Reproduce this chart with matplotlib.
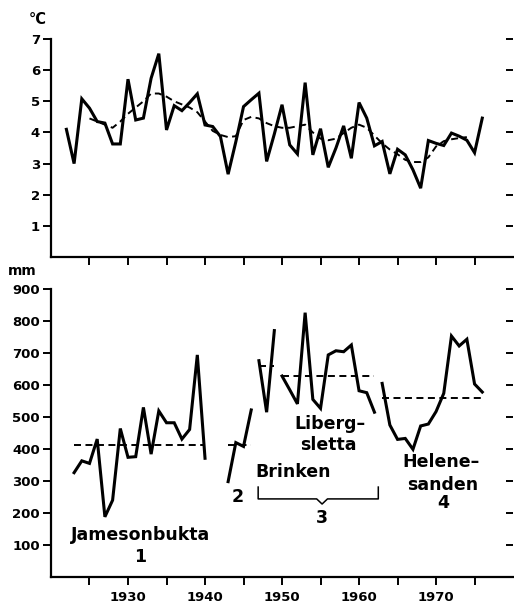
import matplotlib
matplotlib.use("Agg")
import numpy as np
import matplotlib.pyplot as plt

# --- data ---
temp_years = list(range(1922, 1977))
temp_c = [4.1, 3.0, 5.08, 4.78, 4.35, 4.3, 3.63, 3.63, 5.71, 4.4,
          4.46, 5.74, 6.53, 4.08, 4.86, 4.7, 4.96, 5.24, 4.24, 4.19,
          3.87, 2.66, 3.7, 4.83, 5.05, 5.26, 3.07, 3.95, 4.89, 3.6,
          3.31, 5.6, 3.28, 4.12, 2.88, 3.5, 4.21, 3.17, 4.96, 4.46,
          3.57, 3.71, 2.67, 3.46, 3.28, 2.8, 2.21, 3.74, 3.65, 3.58,
          3.98, 3.88, 3.75, 3.35, 4.46]

smooth_years = list(range(1925, 1975))
smooth_c = [4.45, 4.35, 4.25, 4.15, 4.35, 4.6, 4.8, 5.0, 5.25, 5.25,
            5.15, 5.0, 4.9, 4.8, 4.65, 4.35, 4.05, 3.92, 3.85, 3.88,
            4.4, 4.5, 4.45, 4.3, 4.2, 4.15, 4.15, 4.2, 4.25, 4.0,
            3.8, 3.75, 3.8, 3.98, 4.15, 4.25, 4.15, 3.9, 3.65, 3.45,
            3.3, 3.12, 3.05, 3.05, 3.2, 3.55, 3.72, 3.78, 3.82, 3.85]

jameson_years = list(range(1923, 1941))
jameson_mm = [326, 363, 355, 431, 188, 240, 464, 374, 376, 530,
              384, 519, 482, 482, 431, 461, 694, 371]
jameson_mean = 412

st2_years = list(range(1943, 1947))
st2_mm = [298, 420, 408, 522]
st2_mean = 412

brinken_years = list(range(1947, 1950))
brinken_mm = [676, 515, 770]
brinken_mean = 658

liberg_years = list(range(1950, 1963))
liberg_mm = [628, 585, 541, 826, 555, 527, 694, 707, 704, 725, 582, 576, 515]
liberg_mean = 628

helene_years = list(range(1963, 1977))
helene_mm = [605, 475, 430, 433, 399, 472, 478, 517, 574, 753, 722, 743, 603, 578]
helene_mean = 560

x_ticks = list(range(1925, 1980, 5))
x_labels = ['', '1930', '', '1940', '', '1950', '', '1960', '', '1970', '']
temp_ticks = [1, 2, 3, 4, 5, 6, 7]
mm_ticks = [100, 200, 300, 400, 500, 600, 700, 800, 900]

plt.rcParams['font.family'] = ['DejaVu Sans']
plt.rcParams['font.weight'] = 'bold'

fig = plt.figure(figsize=(5.14, 6.05), dpi=100)
ax1 = fig.add_axes([0.0992, 0.5752, 0.899, 0.3603])
ax2 = fig.add_axes([0.0992, 0.0463, 0.899, 0.476])

solid = dict(color='black', lw=2.2, solid_joinstyle='miter')
dashed = dict(color='black', lw=1.4, dashes=(3.6, 2.3))


def style(ax, ymax, yticks):
    ax.set_xlim(1920, 1980)
    ax.set_ylim(0, ymax)
    ax.spines['top'].set_visible(False)
    ax.spines['right'].set_visible(False)
    ax.spines['left'].set_linewidth(1.6)
    ax.spines['bottom'].set_linewidth(1.6)
    ax.set_xticks(x_ticks)
    ax.set_yticks(yticks)
    ax.tick_params(direction='out', length=6, width=1.4, labelsize=9.5, pad=2)
    ax.tick_params(axis='x', pad=4)
    # right-hand ticks, no spine
    tw = ax.twinx()
    tw.set_ylim(0, ymax)
    tw.set_yticks(yticks)
    tw.tick_params(direction='in', length=5, width=1.4, labelright=False)
    for s in tw.spines.values():
        s.set_visible(False)


style(ax1, 7, temp_ticks)
ax1.set_xticklabels([])
ax1.plot(temp_years, temp_c, **solid)
ax1.plot(smooth_years, smooth_c, **dashed)

style(ax2, 900, mm_ticks)
ax2.set_xticklabels(x_labels)
for yrs, vals, mean in [(jameson_years, jameson_mm, jameson_mean),
                        (st2_years, st2_mm, st2_mean),
                        (brinken_years, brinken_mm, brinken_mean),
                        (liberg_years, liberg_mm, liberg_mean),
                        (helene_years, helene_mm, helene_mean)]:
    ax2.plot(yrs, vals, **solid)
    ax2.plot([yrs[0], yrs[-1]], [mean, mean], **dashed)

fig.text(0.074, 0.967, '°C', ha='center', va='center', fontsize=10.5, fontweight='bold')
fig.text(0.043, 0.552, 'mm', ha='center', va='center', fontsize=10, fontweight='bold')

lab = dict(ha='center', va='center', fontsize=12.5, fontweight='bold')
ax2.text(1931.6, 131, 'Jamesonbukta', **lab)
ax2.text(1931.6, 62, '1', **lab)
ax2.text(1944.3, 250, '2', **lab)
ax2.text(1951.4, 328, 'Brinken', **lab)
ax2.text(1955.2, 184, '3', **lab)
ax2.text(1956.2, 478, 'Liberg–', **lab)
ax2.text(1956.0, 412, 'sletta', **lab)
ax2.text(1970.6, 359, 'Helene–', **lab)
ax2.text(1970.9, 287, 'sanden', **lab)
ax2.text(1970.9, 231, '4', **lab)

# bracket under "Brinken" / "Liberg-sletta"
b0, b1, bm = 1946.9, 1962.5, 1955.2
ax2.plot([b0, b0, bm - 0.7, bm, bm + 0.7, b1, b1],
         [281, 244, 244, 228, 244, 244, 281], color='black', lw=1.1)

fig.savefig('out.png', dpi=100)
